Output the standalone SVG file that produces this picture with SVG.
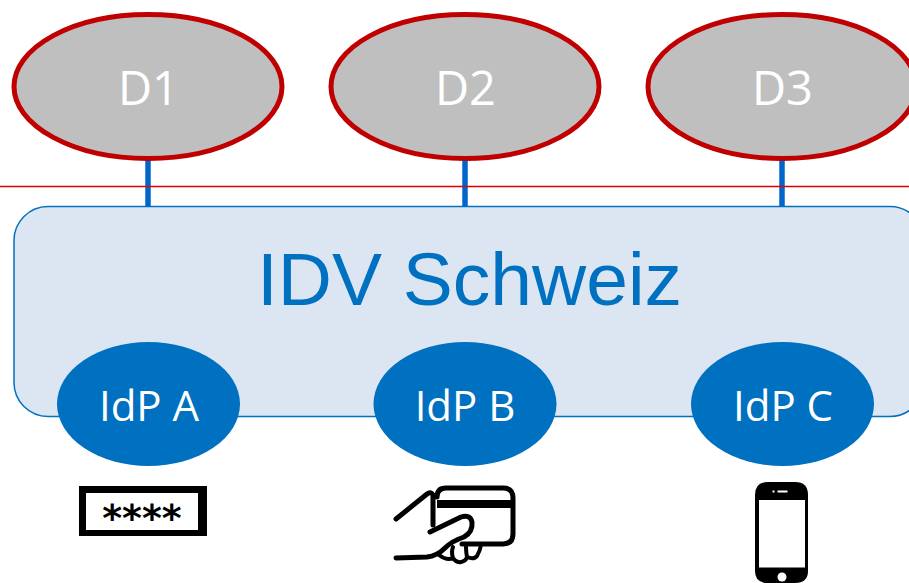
<svg xmlns="http://www.w3.org/2000/svg" width="909" height="583" viewBox="0 0 909 583">
<style>
.d{fill:#bfbfbf;stroke:#c00000;stroke-width:5}
.idp{fill:#0070c0}
.dt{font-family:"Open Sans","Noto Sans",sans-serif;font-size:47px;fill:#fff;text-anchor:middle}
.it{font-family:"Open Sans","Noto Sans",sans-serif;font-size:42px;fill:#fff;text-anchor:middle}
.c{stroke:#0066cc;stroke-width:5.5;fill:none}
.ic{fill:none;stroke:#000;stroke-linecap:round;stroke-linejoin:round}
</style>
<g id="box"><rect x="14" y="206.500" width="910" height="210" rx="34" fill="#dce6f2" stroke="#0070c0" stroke-width="1.500"/>
<text x="469.500" y="305" font-family="Liberation Sans, Arial, sans-serif" font-size="75" fill="#0070c0" text-anchor="middle">IDV Schweiz</text></g>
<g id="connectors">
<line class="c" x1="148" y1="158" x2="148" y2="206"/>
<line class="c" x1="465" y1="158" x2="465" y2="206"/>
<line class="c" x1="782" y1="158" x2="782" y2="206"/>
<line x1="0" y1="186.500" x2="909" y2="186.500" stroke="#e00000" stroke-width="1.500"/>
</g>
<g id="d1"><ellipse class="d" cx="148" cy="86.500" rx="134" ry="72"/><text class="dt" x="148.500" y="105">D1</text></g>
<g id="d2"><ellipse class="d" cx="465" cy="86.500" rx="134" ry="72"/><text class="dt" x="465.500" y="105">D2</text></g>
<g id="d3"><ellipse class="d" cx="782" cy="86.500" rx="134" ry="72"/><text class="dt" x="782.500" y="105">D3</text></g>
<g id="idpa"><ellipse class="idp" cx="148.500" cy="404" rx="91.500" ry="62"/><text class="it" x="149" y="421">IdP A</text></g>
<g id="idpb"><ellipse class="idp" cx="465" cy="404" rx="91.500" ry="62"/><text class="it" x="465" y="421">IdP B</text></g>
<g id="idpc"><ellipse class="idp" cx="782.500" cy="404" rx="91.500" ry="62"/><text class="it" x="783" y="421">IdP C</text></g>
<g id="icon-password">
<path fill="#000" fill-rule="evenodd" d="M79 486H207V536H79ZM86 493V530H198V493Z"/>
<text x="142" y="531" font-family="DejaVu Sans, sans-serif" font-weight="bold" font-size="38" fill="#000" text-anchor="middle">****</text>
</g>
<g id="icon-card">
<path class="ic" stroke-width="5" d="M396 519L427 494Q431 491 433 495L433 525M437 497Q437 488 446 488L503 488Q513 488 513 498L513 534Q513 544 503 544L462 544"/>
<rect x="437" y="500" width="75" height="8" fill="#000"/>
<path class="ic" stroke-width="5" d="M430 532L461 517Q470 514 472 522Q473 532 464 537Q452 541 445 548Q437 556 427 557L396 558"/>
<path class="ic" stroke-width="4" d="M439 555Q447 561 453 558Q451 552 453 547M453 558Q456 563 461 562Q466 561 467 557Q466 552 466 547M467 557Q474 560 477 556Q480 551 481 545"/>
</g>
<g id="icon-phone">
<path fill="#000" d="M768 482L795 482Q808 482 808 495L808 571Q808 583 795 583L768 583Q755 583 755 571L755 495Q755 482 768 482Z"/>
<rect x="759" y="500" width="46" height="67.500" fill="#fff"/>
<circle cx="782" cy="577" r="4.500" fill="#fff"/>
<rect x="777.500" y="490.500" width="10" height="2" fill="#fff"/>
<rect x="772.500" y="490.500" width="2" height="2" fill="#fff"/>
</g>
</svg>
